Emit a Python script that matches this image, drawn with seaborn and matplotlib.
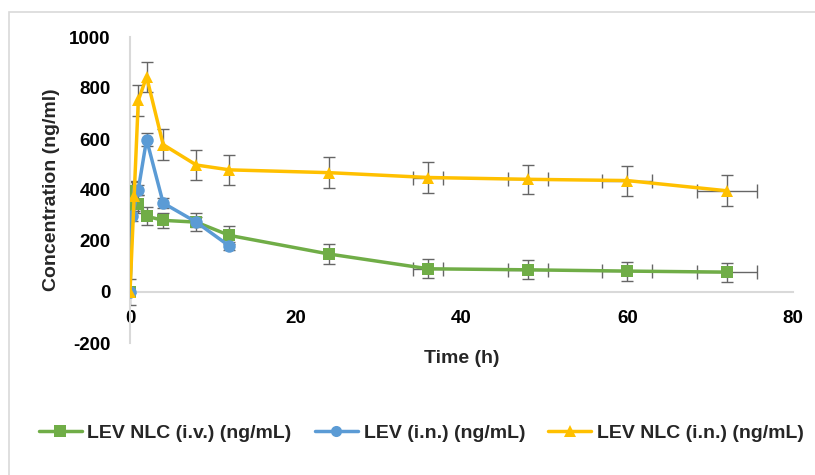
import matplotlib
matplotlib.use("Agg")
import matplotlib.pyplot as plt
import seaborn as sns
import numpy as np
import pandas as pd
from matplotlib.patches import Rectangle
from matplotlib.lines import Line2D

# ---- data ----
iv_time = [0, 0.25, 1, 2, 4, 8, 12, 24, 36, 48, 60, 72]
iv_conc = [0, 397, 346, 297, 281, 274, 222, 149, 91, 87, 82, 78]
iv_err = [0, 38, 35, 35, 30, 35, 35, 38, 38, 37, 37, 37]

in_time = [0, 0.25, 1, 2, 4, 8, 12]
in_conc = [0, 297, 401, 598, 349, 274, 180]
in_err = [0, 20, 20, 25, 20, 20, 15]

nlc_time = [0, 0.5, 1, 2, 4, 8, 12, 24, 36, 48, 60, 72]
nlc_conc = [0, 375, 751, 844, 578, 498, 479, 468, 449, 442, 437, 397]
nlc_err = [50, 58, 60, 58, 60, 60, 60, 61, 60, 58, 59, 61]

# horizontal error applied to late time points (5 % of time)
xerr_from = 36
xerr_frac = 0.05

labels = ["LEV NLC (i.v.) (ng/mL)", "LEV (i.n.) (ng/mL)", "LEV NLC (i.n.) (ng/mL)"]
colors = ["#70AD47", "#5B9BD5", "#FFC000"]
markers = ["s", "o", "^"]

x_ticks = [0, 20, 40, 60, 80]
y_ticks = [-200, 0, 200, 400, 600, 800, 1000]

sns.set_theme(style="white")
plt.rcParams["font.family"] = ["Liberation Sans", "DejaVu Sans"]

fig = plt.figure(figsize=(8.15, 4.75), dpi=100)
ax = fig.add_axes([130 / 815, 1 - 343 / 475, (793 - 130) / 815, (343 - 37) / 475])

series = [
    (iv_time, iv_conc, iv_err),
    (in_time, in_conc, in_err),
    (nlc_time, nlc_conc, nlc_err),
]

handles = []
for (t, c, e), lab, col, mk in zip(series, labels, colors, markers):
    df = pd.DataFrame({"t": t, "c": c, "e": e})
    t_arr = np.asarray(t, dtype=float)
    xe = np.where(t_arr >= xerr_from, t_arr * xerr_frac, 0.0)
    ax.errorbar(df["t"], df["c"], yerr=df["e"], fmt="none", ecolor="#666666",
                elinewidth=1.0, capsize=4, capthick=1.0, zorder=2)
    if xe.any():
        mask = xe > 0
        ax.errorbar(t_arr[mask], np.asarray(c)[mask], xerr=xe[mask], fmt="none",
                    ecolor="#666666", elinewidth=1.0, capsize=5, capthick=1.0, zorder=2)
    sns.lineplot(data=df, x="t", y="c", ax=ax, color=col, marker=mk, markersize=9,
                 markeredgewidth=0, linewidth=2.5, zorder=3, legend=False,
                 estimator=None, sort=False)
    handles.append(Line2D([], [], color=col, marker=mk, markersize=8,
                          markeredgewidth=0, linewidth=2.5))

for s in ["top", "right"]:
    ax.spines[s].set_visible(False)
ax.spines["bottom"].set_position(("data", 0))
ax.spines["left"].set_position(("data", 0))
for s in ["bottom", "left"]:
    ax.spines[s].set_color("#d9d9d9")
    ax.spines[s].set_linewidth(1.5)
ax.grid(False)
ax.set_facecolor("white")

ax.set_xlim(0, 80)
ax.set_ylim(-200, 1000)
ax.set_xticks(x_ticks)
ax.set_yticks(y_ticks)
ax.set_xticklabels([str(v) for v in x_ticks])
ax.set_yticklabels([str(v) for v in y_ticks])
ax.tick_params(axis="both", length=0, colors="black", labelsize=13.5)
ax.tick_params(axis="x", pad=13)
ax.tick_params(axis="y", pad=14)
for lbl in ax.get_xticklabels() + ax.get_yticklabels():
    lbl.set_fontweight("bold")

ax.set_xlabel("Time (h)", fontsize=14, fontweight="bold")
ax.xaxis.set_label_coords(0.5, -0.05)
ax.xaxis.label.set_va("center")
ax.set_ylabel("Concentration (ng/ml)", fontsize=14, fontweight="bold")
ax.yaxis.set_label_coords(-0.118, 0.5)
ax.yaxis.label.set_va("center")

fig.legend(handles, labels, loc="center", bbox_to_anchor=(0.517, 1 - 433 / 475),
           ncol=3, frameon=False, handlelength=2.2, columnspacing=1.2,
           handletextpad=0.3, prop={"size": 14, "weight": "bold"})

fig.patches.append(Rectangle((9 / 815, -0.05), 1.0, 1 - 12 / 475 + 0.05,
                             transform=fig.transFigure, fill=False,
                             edgecolor="#d9d9d9", linewidth=1.2))

fig.savefig("out.png", dpi=100)
